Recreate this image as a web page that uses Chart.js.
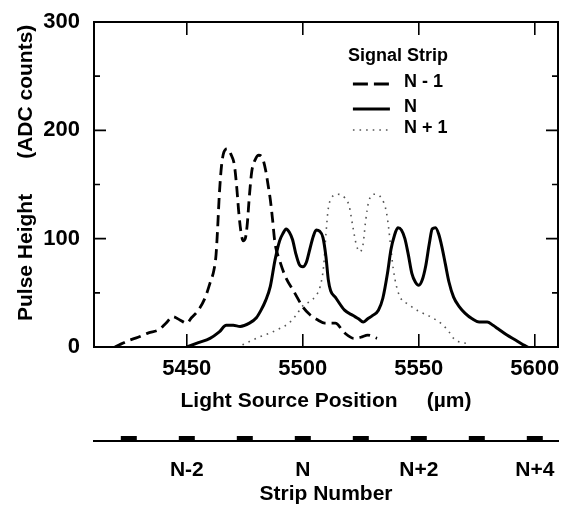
<!DOCTYPE html>
<html>
<head>
<meta charset="utf-8">
<script src="https://cdn.jsdelivr.net/npm/chart.js@4/dist/chart.umd.min.js"></script>
<style>
  html, body { margin: 0; padding: 0; background: #fff; }
  canvas { display: block; }
</style>
</head>
<body>
<canvas id="c" width="564" height="505"></canvas>
<script>
// ---- data ----
const xTicks = [5450, 5500, 5550, 5600];
const yTicks = [0, 50, 100, 150, 200, 250, 300];
const yLabelled = [0, 100, 200, 300];

const seriesLabels = ['N - 1', 'N', 'N + 1'];

const posNm1 = [5419, 5421, 5425, 5429, 5433.5, 5438, 5441, 5444, 5447, 5450,
  5452, 5455, 5458, 5460, 5461.7, 5462.6, 5463.3, 5464, 5465, 5466,
  5467.5, 5469, 5470.5, 5471.5, 5472.5, 5473.5, 5474.3, 5475.2, 5476, 5477,
  5478, 5479.5, 5481, 5482.5, 5484, 5485, 5486, 5487, 5488, 5490,
  5492.5, 5496.5, 5500, 5503, 5506.5, 5509.5, 5514, 5518, 5522, 5525,
  5528, 5532];
const valNm1 = [0, 2, 6, 9, 13, 16, 22, 28, 25, 22,
  27, 34, 46, 59, 71, 85, 110, 140, 168, 180,
  183, 178, 168, 148, 122, 104, 98, 100, 112, 140,
  162, 173, 177, 175, 163, 150, 136, 117, 96, 80,
  65, 50, 37, 30, 25, 22, 22, 13, 8, 9,
  11, 8];

const posN = [5450, 5455, 5460, 5464, 5467, 5470, 5473, 5477, 5480, 5482,
  5484, 5486, 5488, 5490, 5491.5, 5492.8, 5494.2, 5495.6, 5497, 5498.5,
  5500, 5501.5, 5503, 5504.5, 5505.8, 5507.2, 5508.7, 5510, 5511, 5512,
  5514, 5518, 5521.7, 5524, 5526, 5528, 5530, 5532.6, 5534.5, 5536.5,
  5538, 5539.5, 5541, 5542.5, 5544, 5545.5, 5547, 5548.5, 5550, 5551.5,
  5553, 5554.5, 5555.8, 5557.2, 5558.6, 5560, 5561.5, 5563, 5565, 5567.5,
  5570, 5573, 5576, 5579.5, 5582, 5584, 5588, 5592, 5595, 5597];
const valN = [0, 4, 8, 14, 20, 20, 19, 22, 27, 34,
  43, 56, 80, 98, 105, 109, 106, 99, 86, 76,
  74, 78, 90, 102, 108, 107, 101, 83, 62, 52,
  46, 34, 29, 26, 23, 26, 29, 34, 45, 68,
  90, 103, 110, 108, 100, 85, 68, 60, 57, 62,
  75, 95, 109, 110, 104, 92, 76, 60, 46, 37,
  31, 26, 23, 23, 20, 17, 11, 6, 2, 0];

const posNp1 = [5474, 5477, 5481, 5486, 5490, 5494, 5497, 5500, 5503, 5505.5,
  5507.5, 5509, 5510, 5511, 5512.5, 5515, 5518, 5520, 5521.5, 5523,
  5524.5, 5526, 5527, 5528.5, 5531, 5534, 5536, 5537, 5538, 5539,
  5540.5, 5542.5, 5545, 5550, 5555, 5560, 5563, 5565, 5567, 5572];
const valNp1 = [2, 5, 9, 13, 17, 22, 29, 38, 42, 47,
  56, 75, 105, 128, 138, 141, 138, 130, 112, 95,
  88, 95, 115, 135, 141, 137, 125, 110, 90, 72,
  55, 44, 40, 33, 28, 21, 14, 8, 5, 3];

// strip number axis
const stripPos = [5425, 5450, 5475, 5500, 5525, 5550, 5575, 5600];
const stripLabelPos = [5450, 5500, 5550, 5600];
const stripLabels = ['N-2', 'N', 'N+2', 'N+4'];

const xTitle = 'Light Source Position     (\u00b5m)';
const yTitle = '    Pulse Height      (ADC counts)';
const stripTitle = 'Strip Number';
const legendTitle = 'Signal Strip';

// ---- chart ----
const FAMILY = '"Liberation Sans", Arial, Helvetica, sans-serif';
const pts = (xs, ys) => xs.map((x, i) => ({x: x, y: ys[i]}));

const framePlugin = {
  id: 'frame',
  afterDatasetsDraw(chart) {
    const {ctx, chartArea: a, scales} = chart;
    ctx.save();
    ctx.strokeStyle = '#000';
    ctx.lineWidth = 2;
    ctx.setLineDash([]);
    ctx.strokeRect(a.left, a.top, a.right - a.left, a.bottom - a.top);
    ctx.lineWidth = 1.6;
    ctx.beginPath();
    yTicks.forEach(v => {
      const y = scales.y.getPixelForValue(v);
      const len = yLabelled.includes(v) ? 12 : 6;
      ctx.moveTo(a.left, y); ctx.lineTo(a.left + len, y);
      ctx.moveTo(a.right, y); ctx.lineTo(a.right - len, y);
    });
    xTicks.forEach(v => {
      const x = scales.x.getPixelForValue(v);
      ctx.moveTo(x, a.bottom); ctx.lineTo(x, a.bottom - 13);
      ctx.moveTo(x, a.top); ctx.lineTo(x, a.top + 13);
    });
    ctx.stroke();
    ctx.restore();
  }
};

const stripPlugin = {
  id: 'strips',
  afterDraw(chart) {
    const {ctx} = chart;
    const s = chart.scales.x2;
    ctx.save();
    ctx.fillStyle = '#000';
    stripPos.forEach(v => {
      const x = s.getPixelForValue(v);
      ctx.fillRect(x - 8, s.top - 5, 16, 4);
    });
    ctx.restore();
  }
};

const legendPlugin = {
  id: 'innerLegend',
  afterDraw(chart) {
    const {ctx, chartArea: a} = chart;
    const w = a.right - a.left;
    const lx0 = a.left + 0.558 * w;   // sample start
    const lx1 = lx0 + 37;             // sample end
    const tx = lx1 + 14;              // text start
    const rows = [a.top + 60, a.top + 85, a.top + 106];
    ctx.save();
    ctx.fillStyle = '#000';
    ctx.font = 'bold 18px ' + FAMILY;
    ctx.textBaseline = 'middle';
    ctx.textAlign = 'center';
    ctx.fillText(legendTitle, lx0 + 45, a.top + 34);
    ctx.textAlign = 'left';
    chart.data.datasets.forEach((ds, i) => {
      ctx.fillText(ds.label, tx, rows[i]);
      ctx.beginPath();
      ctx.strokeStyle = ds.borderColor;
      ctx.lineWidth = ds.borderWidth;
      ctx.setLineDash(i === 0 ? [15, 6] : (ds.borderDash || []));
      ctx.moveTo(lx0, rows[i] + 2);
      ctx.lineTo(lx1, rows[i] + 2);
      ctx.stroke();
    });
    ctx.restore();
  }
};

const tickFont = {family: FAMILY, size: 22, weight: 'bold'};
const titleFont = {family: FAMILY, size: 21, weight: 'bold'};
const noSidePad = s => { s.paddingLeft = 0; s.paddingRight = 0; };

new Chart(document.getElementById('c'), {
  type: 'line',
  data: {
    datasets: [
      {label: seriesLabels[0], data: pts(posNm1, valNm1), borderColor: '#000',
       borderWidth: 2.8, borderDash: [11, 6], pointRadius: 0, fill: false,
       cubicInterpolationMode: 'monotone'},
      {label: seriesLabels[1], data: pts(posN, valN), borderColor: '#000',
       borderWidth: 3, pointRadius: 0, fill: false, cubicInterpolationMode: 'monotone'},
      {label: seriesLabels[2], data: pts(posNp1, valNp1), borderColor: '#555',
       borderWidth: 1.6, borderDash: [1.6, 5], pointRadius: 0, fill: false,
       cubicInterpolationMode: 'monotone'}
    ]
  },
  options: {
    responsive: false,
    animation: false,
    devicePixelRatio: 1,
    layout: {padding: {top: 22, right: 6, left: 0, bottom: 0}},
    plugins: {legend: {display: false}, tooltip: {enabled: false}},
    scales: {
      x: {
        type: 'linear', position: 'bottom', weight: 0,
        min: 5410, max: 5610,
        afterFit: s => { s.height = 94; noSidePad(s); },
        afterBuildTicks: s => { s.ticks = xTicks.map(v => ({value: v})); },
        grid: {display: false},
        border: {display: false},
        ticks: {color: '#000', font: tickFont, padding: 1, maxRotation: 0, autoSkip: false,
                callback: v => String(v)},
        title: {display: true, text: xTitle, color: '#000', font: titleFont,
                padding: {top: 0, bottom: 27}}
      },
      x2: {
        type: 'linear', position: 'bottom', weight: 1,
        min: 5410, max: 5610,
        afterFit: s => { s.height = 64; noSidePad(s); },
        afterBuildTicks: s => { s.ticks = stripLabelPos.map(v => ({value: v})); },
        grid: {display: false},
        border: {display: true, color: '#000', width: 2},
        ticks: {color: '#000', font: {family: FAMILY, size: 21, weight: 'bold'}, padding: 9,
                maxRotation: 0, autoSkip: false,
                callback: v => stripLabels[stripLabelPos.indexOf(v)]},
        title: {display: true, text: stripTitle, color: '#000',
                font: {family: FAMILY, size: 21, weight: 'bold', lineHeight: 1},
                padding: {top: 0, bottom: 0}}
      },
      y: {
        type: 'linear', position: 'left',
        min: 0, max: 300,
        afterFit: s => { s.width = 94; },
        afterBuildTicks: s => { s.ticks = yTicks.map(v => ({value: v})); },
        grid: {display: false},
        border: {display: false},
        ticks: {color: '#000', font: tickFont, padding: 6,
                callback: v => yLabelled.includes(v) ? String(v) : ''},
        title: {display: true, text: yTitle, color: '#000', font: titleFont,
                padding: {top: 14, bottom: 0}}
      }
    }
  },
  plugins: [framePlugin, stripPlugin, legendPlugin]
});
</script>
</body>
</html>
